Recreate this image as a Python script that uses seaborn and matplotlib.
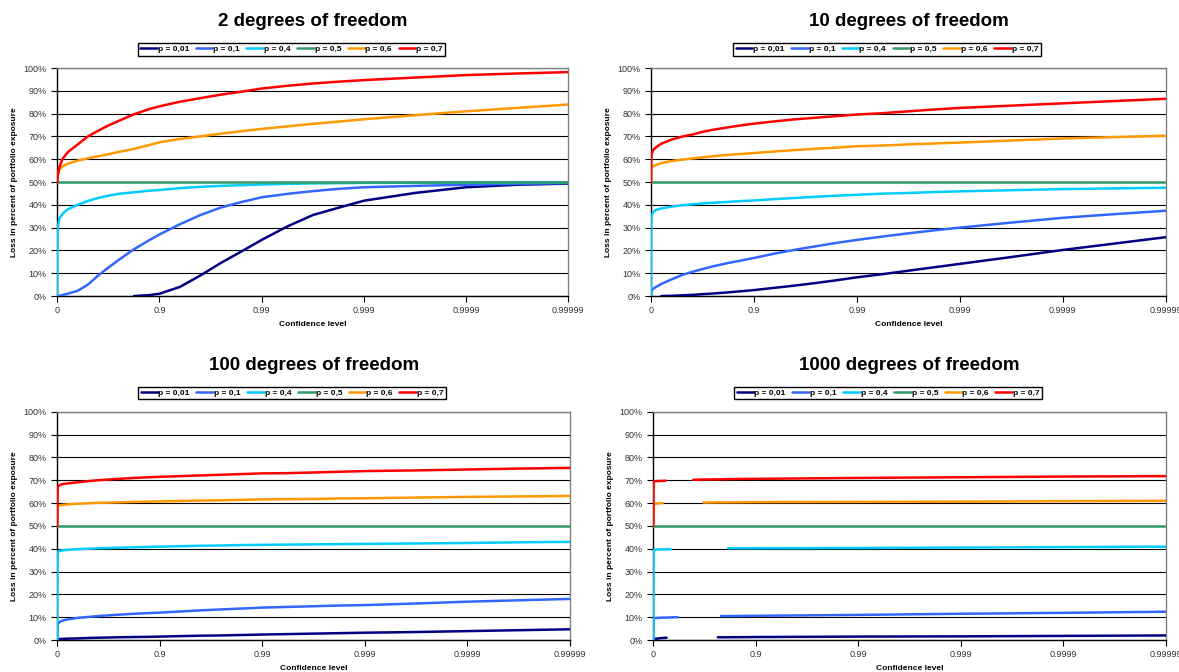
import numpy as np
import pandas as pd
import matplotlib
matplotlib.use('Agg')
import matplotlib.pyplot as plt
import seaborn as sns

nan = np.nan

# x axis is -log10(1 - confidence): 0 -> "0", 1 -> "0.9", ... 5 -> "0.99999"
tick_pos = [0, 1, 2, 3, 4, 5]
tick_labels = ['0', '0.9', '0.99', '0.999', '0.9999', '0.99999']
series_labels = ['p = 0,01', 'p = 0,1', 'p = 0,4', 'p = 0,5', 'p = 0,6', 'p = 0,7']
series_colors = ['#000080', '#3366FF', '#00CCFF', '#339966', '#FF9900', '#FF0000']
panel_titles = ['2 degrees of freedom', '10 degrees of freedom',
                '100 degrees of freedom', '1000 degrees of freedom']

# common x grid for the first three panels
x_grid = [0, 0.002, 0.005, 0.02, 0.05, 0.1, 0.2, 0.3, 0.4, 0.5, 0.6, 0.75, 0.9, 1.0,
          1.2, 1.4, 1.6, 1.8, 2.0, 2.25, 2.5, 2.75, 3.0, 3.5, 4.0, 4.5, 5.0]

# 2 degrees of freedom (loss in %)
df2_p001 = [nan, nan, nan, nan, nan, nan, nan, nan, nan, nan, nan, 0, 0.4, 1.0,
            4.0, 9.0, 14.5, 19.5, 24.6, 30.5, 35.5, 38.7, 41.8, 45.2, 47.7, 48.8, 49.3]
df2_p01 = [0, 0, 0, 0.1, 0.4, 1.0, 2.3, 5.0, 9.0, 12.5, 15.8, 20.5, 24.5, 27.0,
           31.5, 35.5, 38.8, 41.2, 43.3, 44.8, 46.0, 47.0, 47.7, 48.3, 48.8, 49.2, 49.5]
df2_p04 = [0, 25, 30, 34, 36, 38, 40, 41.7, 43, 44, 44.8, 45.5, 46.2, 46.5,
           47.3, 47.9, 48.3, 48.6, 48.9, 49.2, 49.4, 49.5, 49.6, 49.7, 49.8, 49.85, 49.9]
df2_p05 = [50] * 27
df2_p06 = [50, 52, 53.5, 55.5, 56.8, 58, 59.4, 60.4, 61.3, 62.2, 63.2, 64.5, 66.2, 67.4,
           68.9, 70, 71.2, 72.3, 73.3, 74.4, 75.5, 76.5, 77.5, 79.3, 81, 82.5, 84]
df2_p07 = [50, 51.5, 53, 56.5, 60, 63, 66.5, 70, 72.5, 74.8, 76.8, 79.7, 82, 83.2,
           85.2, 86.8, 88.3, 89.6, 91, 92.2, 93.2, 94, 94.7, 95.8, 96.9, 97.6, 98.2]

# 10 degrees of freedom
df10_p001 = [nan, nan, nan, nan, nan, 0, 0.1, 0.3, 0.5, 0.8, 1.1, 1.6, 2.2, 2.6,
             3.6, 4.6, 5.7, 6.9, 8.2, 9.6, 11.1, 12.6, 14.1, 17.1, 20.2, 23.0, 25.8]
df10_p01 = [0, 1.5, 2.2, 3.2, 4.0, 5.3, 7.3, 9.2, 10.6, 11.8, 13, 14.5, 15.8, 16.7,
            18.6, 20.3, 21.8, 23.3, 24.6, 26.1, 27.5, 28.8, 30, 32.2, 34.3, 35.9, 37.4]
df10_p04 = [0, 30, 35, 36.8, 37.8, 38.4, 39.2, 39.8, 40.2, 40.6, 40.9, 41.3, 41.7, 41.9,
            42.5, 43, 43.5, 44, 44.4, 44.9, 45.2, 45.6, 45.9, 46.4, 46.9, 47.2, 47.5]
df10_p05 = [50] * 27
df10_p06 = [50, 55, 56, 57, 57.5, 58.3, 59.2, 59.8, 60.3, 60.8, 61.3, 61.9, 62.4, 62.7,
            63.4, 64, 64.6, 65.1, 65.7, 66, 66.5, 66.9, 67.3, 68.2, 69.1, 69.7, 70.3]
df10_p07 = [50, 60, 62, 64, 65.3, 66.8, 68.6, 69.9, 70.8, 72, 72.9, 74, 75, 75.6,
            76.6, 77.5, 78.2, 78.9, 79.6, 80.2, 81, 81.8, 82.5, 83.5, 84.5, 85.5, 86.5]

# 100 degrees of freedom
df100_p001 = [0, 0.2, 0.3, 0.4, 0.5, 0.6, 0.7, 0.9, 1.0, 1.1, 1.2, 1.3, 1.4, 1.5,
              1.7, 1.9, 2.0, 2.2, 2.4, 2.6, 2.8, 3.0, 3.2, 3.5, 3.9, 4.3, 4.7]
df100_p01 = [0, 5, 7, 7.8, 8.5, 9, 9.7, 10.1, 10.5, 10.8, 11.1, 11.5, 11.8, 12,
             12.5, 13, 13.4, 13.8, 14.2, 14.5, 14.8, 15.1, 15.3, 16, 16.8, 17.4, 18]
df100_p04 = [0, 30, 38.5, 39, 39.3, 39.5, 39.8, 40, 40.2, 40.3, 40.4, 40.6, 40.8, 40.9,
             41.1, 41.3, 41.4, 41.6, 41.7, 41.8, 41.9, 42, 42.1, 42.3, 42.5, 42.8, 43]
df100_p05 = [50] * 27
df100_p06 = [50, 57, 58.6, 59, 59.2, 59.4, 59.7, 59.9, 60.1, 60.2, 60.3, 60.5, 60.6, 60.7,
             60.9, 61.1, 61.2, 61.4, 61.6, 61.7, 61.8, 62, 62.1, 62.4, 62.7, 62.9, 63.1]
df100_p07 = [50, 62, 67, 67.8, 68.3, 68.6, 69.1, 69.6, 70, 70.3, 70.6, 71, 71.3, 71.5,
             71.8, 72.1, 72.4, 72.7, 73, 73.1, 73.4, 73.7, 74, 74.3, 74.7, 75.1, 75.4]

# 1000 degrees of freedom (the original chart has gaps in the lines)
x_grid_1000 = [0, 0.003, 0.016, 0.09, 0.12, 0.13, 0.17, 0.24, 0.3, 0.39, 0.49,
               0.63, 0.66, 0.73, 1.0, 2.0, 3.0, 4.0, 5.0]
df1000_p001 = [nan, nan, 0.5, 0.9, 1.0, 1.0, nan, nan, nan, nan, nan,
               1.2, 1.2, 1.2, 1.3, 1.5, 1.6, 1.8, 2.0]
df1000_p01 = [0, 9.5, 9.6, 9.8, 9.8, 9.8, 9.9, 10, nan, nan, nan,
              nan, 10.5, 10.5, 10.6, 11, 11.5, 11.9, 12.4]
df1000_p04 = [0, 39.5, 39.6, 39.7, 39.7, 39.8, 39.8, nan, nan, nan, nan,
              nan, nan, 40.2, 40.2, 40.3, 40.5, 40.7, 40.9]
df1000_p05 = [50] * 19
df1000_p06 = [50, 59.5, 59.7, 60, nan, nan, nan, nan, nan, nan, 60.2,
              60.3, 60.3, 60.3, 60.4, 60.5, 60.6, 60.8, 61]
df1000_p07 = [50, 69.5, 69.6, 69.7, 69.8, nan, nan, nan, nan, 70.2, 70.3,
              70.4, 70.4, 70.5, 70.6, 71, 71.3, 71.6, 71.8]

panels = [
    (x_grid, [df2_p001, df2_p01, df2_p04, df2_p05, df2_p06, df2_p07]),
    (x_grid, [df10_p001, df10_p01, df10_p04, df10_p05, df10_p06, df10_p07]),
    (x_grid, [df100_p001, df100_p01, df100_p04, df100_p05, df100_p06, df100_p07]),
    (x_grid_1000, [df1000_p001, df1000_p01, df1000_p04, df1000_p05, df1000_p06, df1000_p07]),
]


def to_long(xs, ys_list):
    # long table; a NaN starts a new line segment
    rows = []
    for label, ys in zip(series_labels, ys_list):
        seg = 0
        for xv, yv in zip(xs, ys):
            if np.isnan(yv):
                seg += 1
                continue
            rows.append({'x': xv, 'loss': yv, 'p': label, 'seg': seg})
    return pd.DataFrame(rows)


sns.set_style('white')
plt.rcParams['font.family'] = ['Liberation Sans', 'DejaVu Sans']

fig = plt.figure(figsize=(11.79, 6.72), dpi=100)
positions = [
    [0.0486, 0.5595, 0.4334, 0.3393],
    [0.5522, 0.5595, 0.4366, 0.3393],
    [0.0486, 0.0476, 0.4349, 0.3397],
    [0.5541, 0.0476, 0.4349, 0.3397],
]

for pos, title, (xs, ys_list) in zip(positions, panel_titles, panels):
    ax = fig.add_axes(pos)
    data = to_long(xs, ys_list)
    sns.lineplot(data=data, x='x', y='loss', hue='p', units='seg', estimator=None,
                 sort=False, hue_order=series_labels, palette=series_colors,
                 linewidth=1.8, ax=ax, zorder=3)

    ax.set_xlim(0, 5)
    ax.set_ylim(0, 100)
    ax.set_xticks(tick_pos)
    ax.set_xticklabels(tick_labels)
    ax.set_yticks(range(0, 101, 10))
    ax.set_yticklabels([f'{v}%' for v in range(0, 101, 10)])
    ax.tick_params(axis='both', labelsize=6.5, labelcolor='#333333', direction='out',
                   length=4, width=0.8, color='black', bottom=True, left=True)
    ax.yaxis.grid(True, color='black', linewidth=0.8)
    ax.set_axisbelow(True)
    for side in ['left', 'bottom']:
        ax.spines[side].set_color('black')
        ax.spines[side].set_linewidth(1)
    for side in ['top', 'right']:
        ax.spines[side].set_color('#808080')
        ax.spines[side].set_linewidth(1)

    ax.set_xlabel('Confidence level', fontsize=6, fontweight='bold', color='black')
    ax.set_ylabel('Loss in percent of portfolio exposure', fontsize=6,
                  fontweight='bold', color='black')
    ax.set_title(title, fontsize=13.5, fontweight='bold', pad=30, color='black')

    handles, labels = ax.get_legend_handles_labels()
    leg = ax.legend(handles, labels, loc='lower center', bbox_to_anchor=(0.458, 1.054),
                    ncol=6, frameon=True, fancybox=False, framealpha=1,
                    edgecolor='black', prop={'weight': 'bold', 'size': 6},
                    handlelength=2.0, handletextpad=0.1, columnspacing=0.8,
                    borderpad=0.3, borderaxespad=0)
    leg.get_frame().set_linewidth(1)
    for text in leg.get_texts():
        text.set_color('black')
    for line in leg.get_lines():
        line.set_linewidth(1.8)

fig.savefig('out.png', dpi=100)
